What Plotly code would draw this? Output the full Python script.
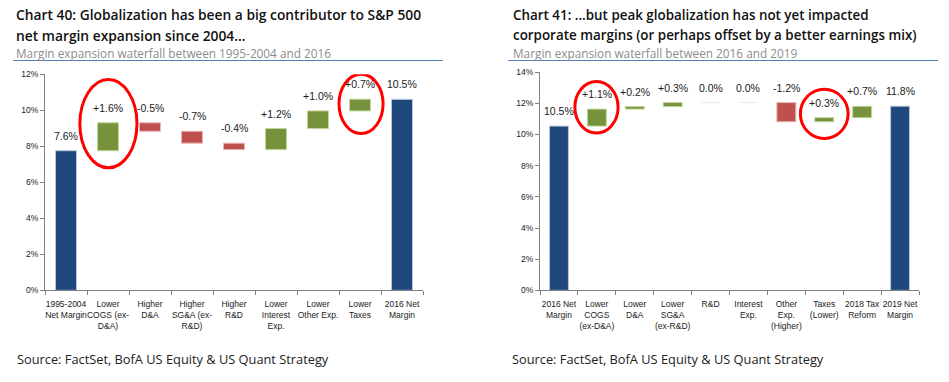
import plotly.graph_objects as go

# ---------------- data ----------------
left_cats = ["1995-2004<br>Net Margin", "Lower<br>COGS (ex-<br>D&A)", "Higher<br>D&A",
             "Higher<br>SG&A (ex-<br>R&D)", "Higher<br>R&D", "Lower<br>Interest<br>Exp.",
             "Lower<br>Other Exp.", "Lower<br>Taxes", "2016 Net<br>Margin"]
left_start = 7.75
left_deltas = [1.55, -0.47, -0.66, -0.36, 1.17, 0.98, 0.65]
left_end = 10.6
left_labels = ["7.6%", "+1.6%", "-0.5%", "-0.7%", "-0.4%", "+1.2%", "+1.0%", "+0.7%", "10.5%"]

right_cats = ["2016 Net<br>Margin", "Lower<br>COGS<br>(ex-D&A)", "Lower<br>D&A",
              "Lower<br>SG&A<br>(ex-R&D)", "R&D", "Interest<br>Exp.",
              "Other<br>Exp.<br>(Higher)", "Taxes<br>(Lower)", "2018 Tax<br>Reform", "2019 Net<br>Margin"]
right_start = 10.54
right_deltas = [1.09, 0.16, 0.26, 0.0, 0.0, -1.23, 0.26, 0.73]
right_end = 11.82
right_labels = ["10.5%", "+1.1%", "+0.2%", "+0.3%", "0.0%", "0.0%", "-1.2%", "+0.3%", "+0.7%", "11.8%"]

left_title = ["Chart 40: Globalization has been a big contributor to S&P 500",
              "net margin expansion since 2004..."]
left_sub = "Margin expansion waterfall between 1995-2004 and 2016"
right_title = ["Chart 41: ...but peak globalization has not yet impacted",
               "corporate margins (or perhaps offset by a better earnings mix)"]
right_sub = "Margin expansion waterfall between 2016 and 2019"
source = "Source: FactSet, BofA US Equity & US Quant Strategy"

BLUE = "#1F497D"
GREEN = "#76923C"
RED = "#C0504D"


def build(start, deltas, end):
    bases, heights, colors, lines = [0], [start], [BLUE], ["#B9C7D9"]
    cur = start
    for d in deltas:
        nxt = cur + d
        bases.append(min(cur, nxt))
        heights.append(abs(d))
        if d > 0:
            colors.append(GREEN); lines.append("#C3D69B")
        elif d < 0:
            colors.append(RED); lines.append("#E6B9B8")
        else:
            colors.append("#F2F2F2"); lines.append("#EDEDED")
        cur = nxt
    bases.append(0); heights.append(end); colors.append(BLUE); lines.append("#B9C7D9")
    return bases, heights, colors, lines


fig = go.Figure()
W, H = 949, 382

def px(x):
    return x / W

def py(y):
    return 1 - y / H

panels = [
    dict(cats=left_cats, start=left_start, deltas=left_deltas, end=left_end, labels=left_labels,
         xa="x", ya="y", xdom=[px(45), px(423)], ydom=[py(293), py(71)], rng=[0, 12]),
    dict(cats=right_cats, start=right_start, deltas=right_deltas, end=right_end, labels=right_labels,
         xa="x2", ya="y2", xdom=[px(540), px(919)], ydom=[py(293), py(69)], rng=[0, 14]),
]

annotations = []
for p in panels:
    b, h, c, l = build(p["start"], p["deltas"], p["end"])
    fig.add_trace(go.Bar(x=p["cats"], y=h, base=b, width=0.5,
                         marker=dict(color=c, line=dict(color=l, width=1)),
                         xaxis=p["xa"], yaxis=p["ya"], showlegend=False, hoverinfo="skip"))
    for cat, bb, hh, lab in zip(p["cats"], b, h, p["labels"]):
        annotations.append(dict(x=cat, y=bb + hh, xref=p["xa"], yref=p["ya"], text=lab,
                                showarrow=False, yanchor="bottom", yshift=7,
                                font=dict(family="Liberation Sans, Arial", size=10.5, color="#1a1a1a")))

axis_common = dict(showgrid=False, zeroline=False, showline=True, linecolor="#7f7f7f", linewidth=1,
                   ticks="outside", ticklen=4, tickcolor="#7f7f7f",
                   tickfont=dict(family="Liberation Sans, Arial", size=8.5, color="#222"))

fig.update_layout(
    width=W, height=H, margin=dict(l=0, r=0, t=0, b=0),
    paper_bgcolor="white", plot_bgcolor="white", bargap=0.5,
    xaxis=dict(domain=panels[0]["xdom"], anchor="y", type="category", tickson="boundaries",
               tickangle=0, ticklabelstandoff=5, **axis_common),
    yaxis=dict(domain=panels[0]["ydom"], anchor="x", range=panels[0]["rng"], dtick=2, ticksuffix="%", **axis_common),
    xaxis2=dict(domain=panels[1]["xdom"], anchor="y2", type="category", tickson="boundaries",
                tickangle=0, ticklabelstandoff=5, **axis_common),
    yaxis2=dict(domain=panels[1]["ydom"], anchor="x2", range=panels[1]["rng"], dtick=2, ticksuffix="%", **axis_common),
)

TF = "Open Sans, Noto Sans, sans-serif"

for x, tl, sub, ts in [(15, left_title, left_sub, 13.8), (512, right_title, right_sub, 13.4)]:
    annotations.append(dict(x=px(x), y=py(20.5), xref="paper", yref="paper", text=tl[0],
                            showarrow=False, xanchor="left", yanchor="bottom", borderpad=0,
                            font=dict(family=TF, size=ts, color="#111", weight=600)))
    annotations.append(dict(x=px(x), y=py(20.5), xref="paper", yref="paper", text=tl[1],
                            showarrow=False, xanchor="left", yanchor="top", borderpad=0,
                            font=dict(family=TF, size=ts, color="#111", weight=600)))
    annotations.append(dict(x=px(x), y=py(40), xref="paper", yref="paper", text=sub,
                            showarrow=False, xanchor="left", yanchor="top", borderpad=0,
                            font=dict(family=TF, size=11.8, color="#8c8c8c")))
for x in (15, 510):
    annotations.append(dict(x=px(x), y=py(364), xref="paper", yref="paper", text=source, showarrow=False,
                            xanchor="left", yanchor="middle", font=dict(family=TF, size=12.8, color="#222")))

fig.update_layout(annotations=annotations)

shapes = [
    dict(type="line", xref="paper", yref="paper", x0=px(13), x1=px(443), y0=py(57), y1=py(57),
         line=dict(color="#4F81BD", width=1)),
    dict(type="line", xref="paper", yref="paper", x0=px(508), x1=px(938), y0=py(57), y1=py(57),
         line=dict(color="#4F81BD", width=1)),
    dict(type="circle", xref="x", yref="y", x0=0.33, x1=1.69, y0=6.8, y1=11.7,
         line=dict(color="#FF0000", width=3)),
    dict(type="circle", xref="x", yref="y", x0=6.5, x1=7.55, y0=8.7, y1=12.0,
         line=dict(color="#FF0000", width=3)),
    dict(type="circle", xref="x2", yref="y2", x0=0.42, x1=1.56, y0=10.1, y1=13.4,
         line=dict(color="#FF0000", width=3)),
    dict(type="circle", xref="x2", yref="y2", x0=6.37, x1=7.63, y0=9.75, y1=12.9,
         line=dict(color="#FF0000", width=3)),
]
fig.update_layout(shapes=shapes)

fig.write_html("out.html", config={"displayModeBar": False},
               post_script="document.body.style.margin='0px';document.body.style.padding='0px';")
